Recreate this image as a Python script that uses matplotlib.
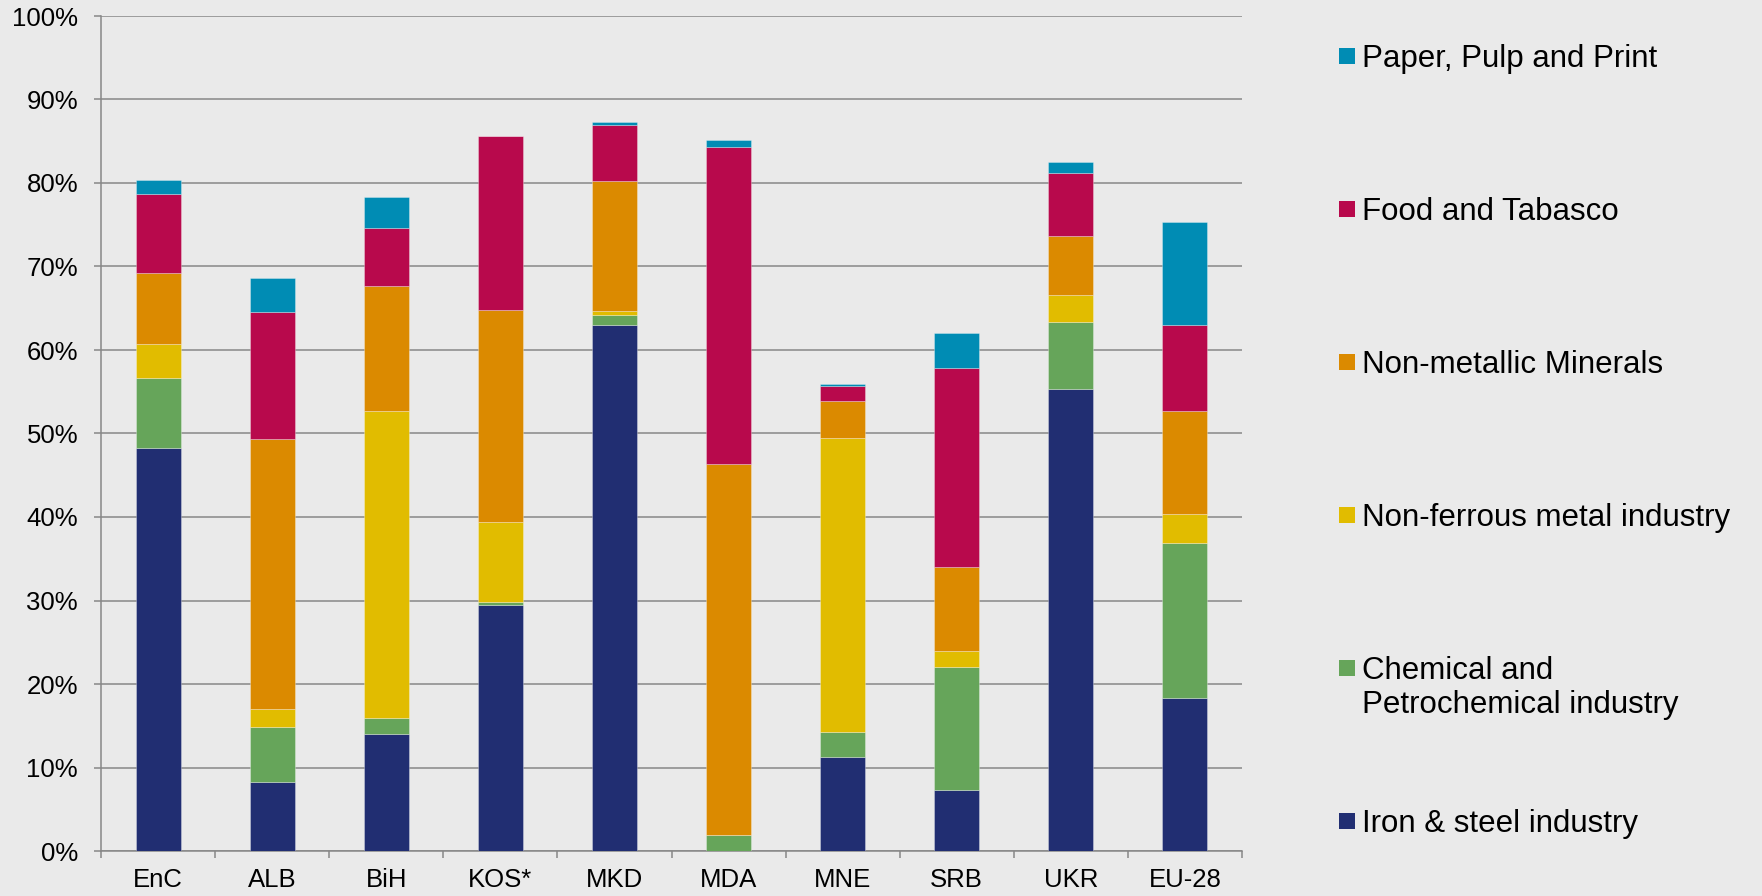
import matplotlib
matplotlib.use("Agg")
import matplotlib.pyplot as plt
from matplotlib.patches import Rectangle
from matplotlib.ticker import FuncFormatter, FixedLocator
import numpy as np

# ---------------- data ----------------
categories = ['EnC', 'ALB', 'BiH', 'KOS*', 'MKD', 'MDA', 'MNE', 'SRB', 'UKR', 'EU-28']
iron_steel = [48.3, 8.3, 14.0, 29.5, 63.0, 0.0, 11.2, 7.3, 55.3, 18.3]
chemical = [8.3, 6.5, 1.9, 0.3, 1.2, 1.9, 3.05, 14.7, 8.1, 18.6]
non_ferrous = [4.1, 2.2, 36.8, 9.6, 0.45, 0.0, 35.2, 2.0, 3.2, 3.4]
non_metallic = [8.5, 32.3, 15.0, 25.4, 15.55, 44.4, 4.5, 10.0, 7.0, 12.4]
food_tabasco = [9.5, 15.3, 6.9, 20.8, 6.8, 38.0, 1.7, 23.8, 7.55, 10.25]
paper_pulp = [1.6, 4.05, 3.7, 0.0, 0.3, 0.9, 0.3, 4.2, 1.35, 12.35]

series_labels = ['Iron & steel industry',
                 'Chemical and\nPetrochemical industry',
                 'Non-ferrous metal industry',
                 'Non-metallic Minerals',
                 'Food and Tabasco',
                 'Paper, Pulp and Print']
series_colors = ['#212E72', '#66A55A', '#E1BC00', '#DB8A00', '#B8094C', '#008CB4']
y_ticks = [0, 10, 20, 30, 40, 50, 60, 70, 80, 90, 100]

# ---------------- figure ----------------
plt.rcParams['font.family'] = ['Liberation Sans', 'DejaVu Sans']
W, H = 1762, 896
bg = '#EAEAEA'
fig = plt.figure(figsize=(W / 100, H / 100), dpi=100, facecolor=bg)
ax = fig.add_axes([101 / W, 1 - 851 / H, (1242 - 101) / W, (851 - 16) / H], facecolor=bg)

series = [iron_steel, chemical, non_ferrous, non_metallic, food_tabasco, paper_pulp]
x = np.arange(len(categories))
bottom = np.zeros(len(categories))
for vals, col, lab in zip(series, series_colors, series_labels):
    v = np.array(vals, dtype=float)
    ax.bar(x, v, bottom=bottom, width=0.395, color=col, label=lab,
           edgecolor=(1, 1, 1, 0.3), linewidth=0.7, zorder=3)
    bottom += v

ax.set_xlim(-0.5, len(categories) - 0.5)
ax.set_ylim(0, 100)
ax.set_yticks(y_ticks)
ax.yaxis.set_major_formatter(FuncFormatter(lambda v, p: f'{v:.0f}%'))
ax.set_xticks(x)
ax.set_xticklabels(categories)
ax.xaxis.set_minor_locator(FixedLocator(np.arange(-0.5, len(categories), 1.0)))

grid_col = '#878787'
ax.grid(axis='y', color=grid_col, linewidth=1.1, zorder=0)
ax.set_axisbelow(True)
for s in ['top', 'right']:
    ax.spines[s].set_visible(False)
for s in ['left', 'bottom']:
    ax.spines[s].set_color(grid_col)
    ax.spines[s].set_linewidth(1.1)

ax.tick_params(axis='y', which='major', length=5, width=1.1, color=grid_col,
               pad=11.5, labelsize=18.5, labelcolor='black')
ax.tick_params(axis='x', which='major', length=0, pad=12, labelsize=18.5, labelcolor='black')
ax.tick_params(axis='x', which='minor', length=5, width=1.1, color=grid_col, direction='out')

# ---------------- legend (manual, right side) ----------------
legend_order = [5, 4, 3, 2, 1, 0]
y0, dy = 56.3, 153.0
line_h = 34.0
for k, idx in enumerate(legend_order):
    yc = y0 + dy * k
    fig.add_artist(Rectangle((1339 / W, 1 - (yc + 8) / H), 16 / W, 16 / H,
                             transform=fig.transFigure, facecolor=series_colors[idx],
                             edgecolor='none'))
    for j, line in enumerate(series_labels[idx].split('\n')):
        fig.text(1362 / W, 1 - (yc + 10.5 + line_h * j) / H, line, fontsize=22.5,
                 color='black', va='baseline', ha='left')

fig.savefig('out.png', dpi=100, facecolor=bg)
